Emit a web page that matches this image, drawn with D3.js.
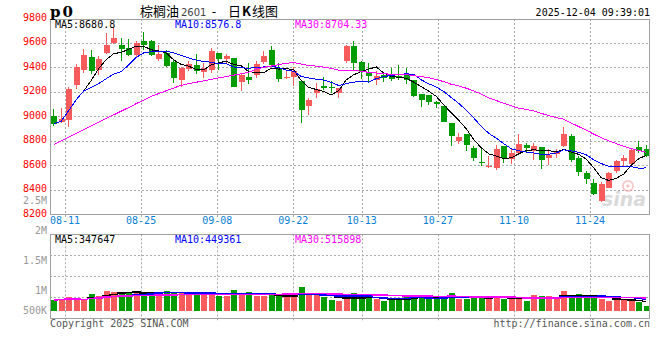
<!DOCTYPE html>
<html><head><meta charset="utf-8">
<script src="https://cdn.jsdelivr.net/npm/d3@7/dist/d3.min.js"></script>
<style>body{margin:0;background:#fff}text{font-family:"DejaVu Sans Mono",monospace}</style>
</head><body>
<svg id="c" width="660" height="360"></svg>
<script>
const dates = ["08-07","08-08","08-11","08-12","08-13","08-14","08-15","08-18","08-19","08-20",
"08-21","08-22","08-25","08-26","08-27","08-28","08-29","09-01","09-02","09-03",
"09-04","09-05","09-08","09-09","09-10","09-11","09-12","09-15","09-16","09-17",
"09-18","09-19","09-22","09-23","09-24","09-25","09-26","09-29","09-30","10-09",
"10-10","10-13","10-14","10-15","10-16","10-17","10-20","10-21","10-22","10-23",
"10-24","10-27","10-28","10-29","10-30","10-31","11-03","11-04","11-05","11-06",
"11-07","11-10","11-11","11-12","11-13","11-14","11-17","11-18","11-19","11-20",
"11-21","11-24","11-25","11-26","11-27","11-28","12-01","12-02","12-03","12-04"];
const open = [9003,8954,8968,9253,9375,9481,9377,9516,9597,9586,9557,9497,9614,9611,9467,9513,9445,9299,9383,9421,
9361,9377,9513,9470,9472,9277,9320,9334,9440,9538,9386,9315,9320,9285,9082,9190,9244,9239,9193,9451,
9570,9440,9361,9299,9334,9326,9326,9334,9293,9179,9171,9114,9082,8943,8802,8854,8740,8628,8588,8580,
8756,8653,8702,8764,8715,8748,8661,8694,8756,8837,8658,8539,8452,8308,8414,8552,8634,8609,8748,8737];
const high = [9057,9065,9236,9429,9546,9538,9489,9676,9728,9638,9635,9611,9692,9619,9578,9543,9470,9399,9448,9505,
9437,9554,9519,9505,9475,9342,9432,9451,9532,9570,9432,9372,9399,9291,9149,9272,9318,9285,9234,9586,
9614,9453,9437,9367,9356,9396,9415,9396,9299,9182,9177,9122,9084,8949,8867,8859,8756,8737,8675,8764,
8759,8732,8854,8786,8783,8753,8732,8732,8913,8856,8672,8555,8487,8466,8547,8645,8683,8732,8799,8764];
const low = [8921,8949,8913,9225,9356,9342,9337,9510,9592,9451,9491,9483,9538,9489,9448,9402,9272,9236,9372,9342,
9312,9356,9380,9424,9236,9204,9263,9312,9426,9402,9280,9307,9247,8946,9008,9152,9217,9190,9149,9434,
9369,9301,9282,9258,9280,9285,9293,9261,9155,9073,9090,9065,8951,8759,8775,8715,8634,8596,8574,8561,
8620,8612,8696,8702,8645,8571,8601,8656,8750,8628,8514,8449,8357,8300,8411,8539,8596,8607,8702,8666];
const close = [8940,8981,9220,9399,9497,9369,9464,9586,9643,9546,9497,9595,9578,9497,9505,9410,9312,9394,9424,9372,
9391,9529,9467,9489,9239,9334,9296,9424,9489,9415,9304,9320,9369,9052,9130,9225,9231,9234,9228,9570,
9434,9361,9329,9326,9312,9304,9312,9299,9166,9133,9114,9101,8954,8840,8829,8767,8661,8615,8596,8737,
8661,8699,8772,8742,8756,8645,8683,8715,8854,8645,8547,8490,8362,8444,8539,8637,8658,8723,8715,8672];
// MA30 for the first 29 days (needs history before the window)
const ma30Lead = [8770,8800,8830,8861,8891,8921,8951,8982,9012,9042,9072,9103,9133,9163,9186,9209,9231,9253,9266,9278,
9290,9302,9313,9324,9336,9347,9360,9385,9400];
const volume = [390,415,488,390,390,610,537,732,695,683,646,646,598,646,683,720,646,646,646,646,
646,586,524,524,756,646,695,524,524,610,524,524,524,878,573,610,488,390,354,451,
646,488,451,427,354,451,427,488,561,488,427,451,512,646,427,427,488,488,488,524,
415,451,451,354,573,537,524,427,720,488,610,512,488,427,354,390,427,390,329,171].map(v=>v*1000);
const priceTicks = [9800,9600,9400,9200,9000,8800,8600,8400,8200];
const dateTicks = ["08-11","08-25","09-08","09-22","10-13","10-27","11-10","11-24"];
const volTicks = [2.5e6,2e6,1.5e6,1e6,5e5];
const volTickLabels = ["2.5M","2M","1.5M","1M","500K"];
const legendMain = ["MA5:8680.8","MA10:8576.8","MA30:8704.33"];
const legendVol = ["MA5:347647","MA10:449361","MA30:515898"];
const maColors = ["#000000","#0000ff","#ff00ff"];

const n = close.length;
const RED = "#f75b5b", GREEN = "#009c00", GRID = "#aaaaaa";
const svg = d3.select("#c");
const L = 50, R = 649;
const mainTop = 19, mainBot = 214.3;
const volTop = 234.3, volBot = 318, volBase = 310.7;

const x = d3.scaleBand().domain(d3.range(n)).range([50, 650]).paddingInner(0.2).paddingOuter(0.1);
const cx = i => x(i) + x.bandwidth() / 2;
const xGrid = d3.scaleLinear().domain([0, n - 1]).range([49.8, 650.9]);
const y = d3.scaleLinear().domain([8200, 9800]).range([214.3, 18.3]);
const yv = d3.scaleLinear().domain([0, 2.8e6]).range([volBase, volBase - 2.8 * 27.3]);
const yLab = d3.scaleLinear().domain([5e5, 2.5e6]).range([320.7, 200.7]);

function ma(arr, k, i) { const s = arr.slice(Math.max(0, i - k + 1), i + 1); return d3.mean(s); }
const ma5 = d3.range(n).map(i => ma(close, 5, i));
const ma10 = d3.range(n).map(i => ma(close, 10, i));
const ma30 = d3.range(n).map(i => i < ma30Lead.length ? ma30Lead[i] : ma(close, 30, i));
const v5 = d3.range(n).map(i => ma(volume, 5, i));
const v10 = d3.range(n).map(i => ma(volume, 10, i));
const v30 = d3.range(n).map(i => ma(volume, 30, i));

const g = svg.append("g");
const dateIdx = dateTicks.map(d => dates.indexOf(d));
g.selectAll(".hg").data(priceTicks.filter(p => p > 8200 && p < 9800)).join("line")
  .attr("x1", L).attr("x2", R).attr("y1", d => Math.round(y(d)) + 0.5).attr("y2", d => Math.round(y(d)) + 0.5)
  .attr("stroke", GRID).attr("stroke-dasharray", "2,2");
g.selectAll(".vg").data(dateIdx).join("line")
  .attr("x1", d => Math.round(xGrid(d)) + 0.5).attr("x2", d => Math.round(xGrid(d)) + 0.5)
  .attr("y1", mainTop).attr("y2", 218).attr("stroke", GRID).attr("stroke-dasharray", "2,2");
g.selectAll(".hgv").data([1, 2, 3]).join("line")
  .attr("x1", L).attr("x2", R)
  .attr("y1", d => Math.round(volTop + d * (volBot - volTop) / 4) + 0.5).attr("y2", d => Math.round(volTop + d * (volBot - volTop) / 4) + 0.5)
  .attr("stroke", GRID).attr("stroke-dasharray", "2,2");
g.selectAll(".vgv").data(dateIdx).join("line")
  .attr("x1", d => Math.round(xGrid(d)) + 0.5).attr("x2", d => Math.round(xGrid(d)) + 0.5)
  .attr("y1", volTop).attr("y2", volBot + 4).attr("stroke", GRID).attr("stroke-dasharray", "2,2");

// watermark
const wm = svg.append("g").attr("opacity", 0.55);
wm.append("circle").attr("cx", 628).attr("cy", 186).attr("r", 5).attr("fill", "none").attr("stroke", "#f0a0a0").attr("stroke-width", 2);
wm.append("circle").attr("cx", 628).attr("cy", 186).attr("r", 1.8).attr("fill", "#f0a0a0");
wm.append("text").attr("x", 624).attr("y", 206).attr("text-anchor", "middle")
  .attr("font-style", "italic").attr("font-weight", "bold")
  .attr("font-size", 19).attr("fill", "#bdbdbd").style("font-family", "DejaVu Sans").text("sina");

// candles
const cg = svg.append("g").attr("shape-rendering", "crispEdges");
const col = i => close[i] >= open[i] ? RED : GREEN;
cg.selectAll(".wick").data(d3.range(n)).join("line")
  .attr("x1", i => Math.floor(cx(i)) + 0.5).attr("x2", i => Math.floor(cx(i)) + 0.5)
  .attr("y1", i => y(high[i])).attr("y2", i => y(low[i])).attr("stroke", col);
cg.selectAll(".body").data(d3.range(n)).join("rect")
  .attr("x", i => Math.floor(cx(i)) - 2.5).attr("width", 6)
  .attr("y", i => y(Math.max(open[i], close[i])))
  .attr("height", i => Math.max(1, Math.abs(y(open[i]) - y(close[i]))))
  .attr("fill", col);

const line = d3.line().x((d, i) => cx(i)).y(d => y(d));
[ma5, ma10, ma30].forEach((s, k) => {
  svg.append("path").attr("d", line(s)).attr("fill", "none").attr("stroke", maColors[k])
    .attr("stroke-width", 1).attr("shape-rendering", "crispEdges");
});

// volume bars
cg.selectAll(".vb").data(d3.range(n)).join("rect")
  .attr("x", i => Math.floor(cx(i)) - 2.5).attr("width", 6)
  .attr("y", i => yv(volume[i])).attr("height", i => yv(0) - yv(volume[i]))
  .attr("fill", col);
const vline = d3.line().x((d, i) => cx(i)).y(d => yv(d)).curve(d3.curveStep);
[v5, v10, v30].forEach((s, k) => {
  svg.append("path").attr("d", vline(s)).attr("fill", "none").attr("stroke", maColors[k])
    .attr("stroke-width", 1.5).attr("shape-rendering", "crispEdges");
});

// borders
const bd = svg.append("g").attr("shape-rendering", "crispEdges").attr("fill", "none").attr("stroke", "#a0a0a0");
bd.append("rect").attr("x", L + 0.5).attr("y", mainTop + 0.5).attr("width", R - L).attr("height", mainBot - mainTop);
bd.append("rect").attr("x", L + 0.5).attr("y", volTop + 0.5).attr("width", R - L).attr("height", volBot - volTop);

// legends
const legMain = svg.append("g");
const legX = [55, 175, 295];
legendMain.forEach((t, k) => {
  legMain.append("rect").attr("x", legX[k] - 1).attr("y", 20).attr("width", t.length * 6 + 2).attr("height", 8).attr("fill", "#fff");
  legMain.append("text").attr("x", legX[k]).attr("y", 28).attr("font-size", 10).attr("fill", maColors[k]).text(t);
});
legendVol.forEach((t, k) => {
  legMain.append("rect").attr("x", legX[k] - 1).attr("y", 235).attr("width", t.length * 6 + 2).attr("height", 8).attr("fill", "#fff");
  legMain.append("text").attr("x", legX[k]).attr("y", 242.5).attr("font-size", 10).attr("fill", maColors[k]).text(t);
});

// axes labels
svg.append("g").selectAll("text").data(priceTicks).join("text")
  .attr("x", 47).attr("y", d => y(d) + 2.5).attr("text-anchor", "end")
  .attr("font-size", 10).attr("fill", "#ff0000").text(d => d);
svg.append("g").selectAll("text").data(volTicks).join("text")
  .attr("x", 47).attr("y", d => Math.min(yLab(d), 310.7) + 3).attr("text-anchor", "end")
  .attr("font-size", 10).attr("fill", "#999999").text((d, i) => volTickLabels[i]);
svg.append("g").selectAll("text").data(dateIdx).join("text")
  .attr("x", d => xGrid(d)).attr("y", 224).attr("text-anchor", "middle")
  .attr("font-size", 10).attr("fill", "#0a7fd6").text((d, i) => dateTicks[i]);

// header
svg.append("text").attr("x", 50).attr("y", 17).attr("font-size", 15).attr("font-weight", "bold")
  .attr("letter-spacing", 2).attr("fill", "#000").style("font-family", "DejaVu Serif").text("p0");
const cjk = "'Noto Sans CJK SC'";
const tt = svg.append("g").attr("fill", "#000").style("font-family", cjk);
tt.append("text").attr("x", 140).attr("y", 16).attr("font-size", 13).style("font-family", cjk).text("棕榈油");
tt.append("text").attr("x", 181).attr("y", 16).attr("font-size", 10).attr("fill", "#444").style("font-family", "DejaVu Sans").text("2601");
tt.append("text").attr("x", 214).attr("y", 16).attr("font-size", 13).attr("text-anchor", "middle").style("font-family", cjk).text("-");
const t2 = tt.append("text").attr("x", 228).attr("y", 16).attr("font-size", 13).style("font-family", cjk);
t2.append("tspan").text("日");
t2.append("tspan").attr("font-weight", "bold").attr("dx", 1).text("K");
t2.append("tspan").attr("dx", 1).text("线图");
svg.append("text").attr("x", 650).attr("y", 16).attr("text-anchor", "end").attr("font-size", 10)
  .attr("fill", "#000").text("2025-12-04 09:39:01");

// footer
svg.append("text").attr("x", 50).attr("y", 327).attr("font-size", 10).attr("fill", "#555").text("Copyright 2025 SINA.COM");
svg.append("text").attr("x", 650).attr("y", 327).attr("text-anchor", "end").attr("font-size", 10).attr("fill", "#555").text("http://finance.sina.com.cn");
</script>
</body></html>
